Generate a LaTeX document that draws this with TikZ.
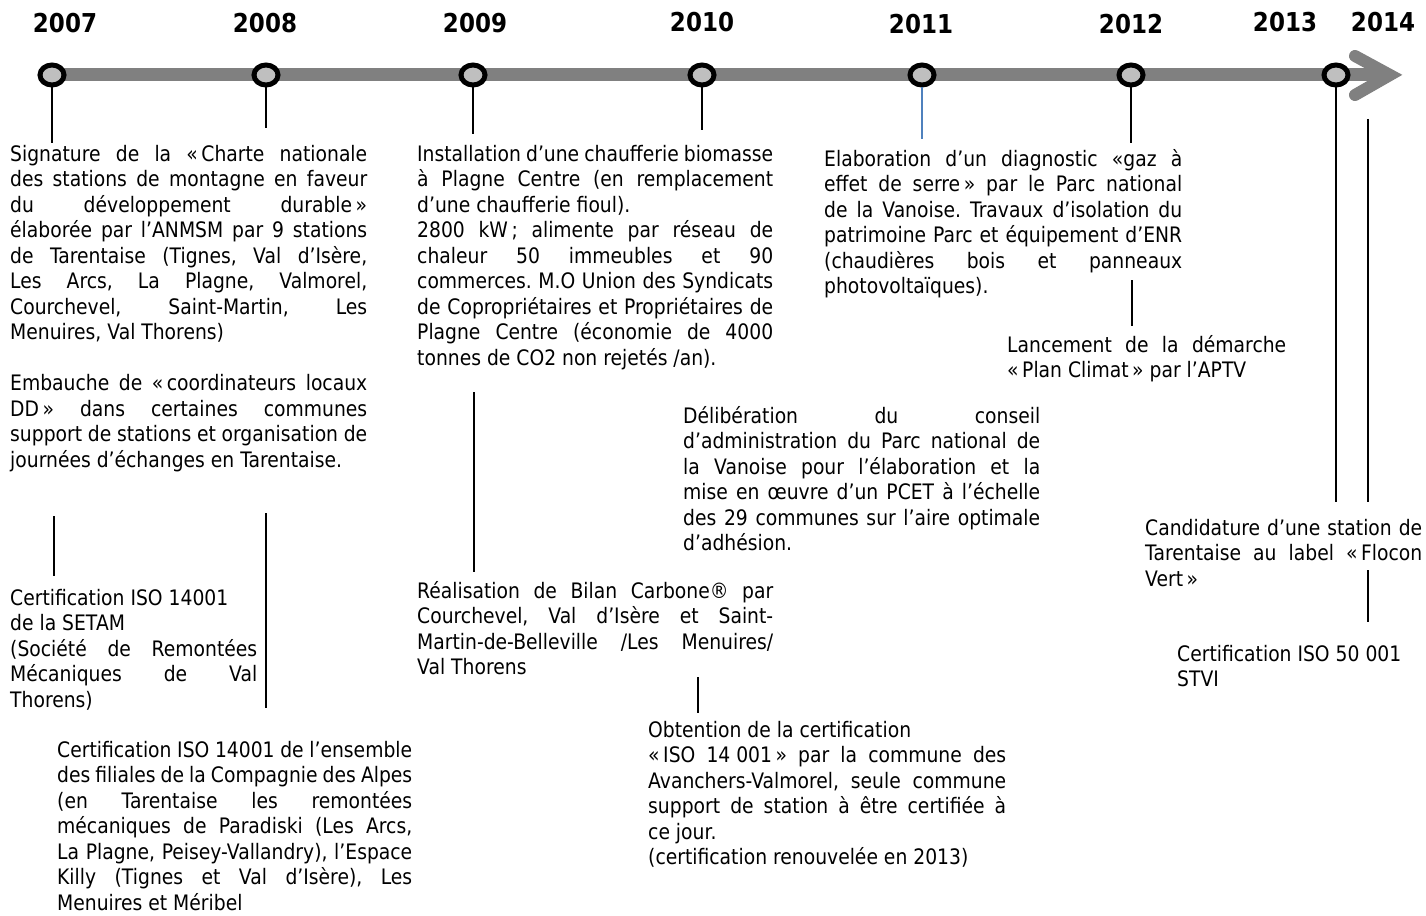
\documentclass[tikz,border=0pt]{standalone}
\usepackage{fontspec}
\setmainfont{DejaVu Sans}[FakeStretch=0.88]
\newfontfamily\yearfont{DejaVu Sans}[FakeStretch=0.885]
\usetikzlibrary{shapes.geometric}
\definecolor{barg}{RGB}{128,128,128}
\definecolor{dotfill}{RGB}{191,191,191}
\definecolor{lnblue}{RGB}{79,129,189}
\newcommand\J[1]{\makebox[\linewidth][s]{#1}\par}
\newcommand\LL[1]{\makebox[\linewidth][l]{#1}\par}
\newcommand\BL{\mbox{}\par}
\newcommand\ogq{«\,}
\newcommand\fgq{\,»}
\frenchspacing
\hbadness=10000 \hfuzz=20pt
\begin{document}
\begin{tikzpicture}[x=1pt,y=-1pt,
  yr/.style={font=\yearfont\bfseries\fontsize{26}{30}\selectfont, inner sep=0pt, anchor=base},
  dot/.style={ellipse, draw=black, line width=5pt, fill=dotfill, minimum width=24pt, minimum height=20pt, inner sep=0pt},
  link/.style={line width=2pt, draw=black},
  bar/.style={line width=13pt, draw=barg},
  txt/.style={font=\fontsize{21.3}{25.5}\selectfont, inner sep=0pt, anchor=base west}]
\useasboundingbox (0,0) rectangle (1426,915);
\fill[white] (0,0) rectangle (1426,915);

% timeline
\coordinate (start) at (52,75);
\coordinate (tip) at (1388,75);
\draw[bar] (start) -- (tip);
\coordinate (hu) at (1355,56);
\coordinate (hv) at (1390,75);
\coordinate (hd) at (1355,95);
\draw[draw=barg, line width=12pt, line cap=round, line join=miter] (hu) -- (hv) -- (hd);

% years
\node[yr] (y07) at (65,33) {2007};
\node[yr] (y08) at (265,33) {2008};
\node[yr] (y09) at (475,33) {2009};
\node[yr] (y10) at (702,32) {2010};
\node[yr] (y11) at (921,34) {2011};
\node[yr] (y12) at (1131,34) {2012};
\node[yr] (y13) at (1285,32) {2013};
\node[yr] (y14) at (1383,32) {2014};

% dots
\node[dot] (c07) at (52,75) {};
\node[dot] (c08) at (266,75) {};
\node[dot] (c09) at (473,75) {};
\node[dot] (c10) at (702,75) {};
\node[dot] (c11) at (922,75) {};
\node[dot] (c12) at (1131,75) {};
\node[dot] (c13) at (1336,75) {};

% connector ends
\coordinate (e07) at (52,143);
\coordinate (e08) at (266,128);
\coordinate (e09) at (473,134);
\coordinate (e10) at (702,130);
\coordinate (e11) at (922,139);
\coordinate (e12) at (1131,143);
\coordinate (e13) at (1336,502);
\coordinate (s1) at (1368,119);
\coordinate (s2) at (1368,502);
\coordinate (s3) at (1368,570);
\coordinate (s4) at (1368,622);
\coordinate (a1) at (54,516);
\coordinate (a2) at (54,576);
\coordinate (b1) at (266,513);
\coordinate (b2) at (266,708);
\coordinate (d1) at (474,392);
\coordinate (d2) at (474,572);
\coordinate (f1) at (698,677);
\coordinate (f2) at (698,713);
\coordinate (g1) at (1132,280);
\coordinate (g2) at (1132,326);

\draw[link] (c07.south) -- (e07);
\draw[link] (c08.south) -- (e08);
\draw[link] (c09.south) -- (e09);
\draw[link] (c10.south) -- (e10);
\draw[line width=1.5pt, draw=lnblue] (c11.south) -- (e11);
\draw[link] (c12.south) -- (e12);
\draw[link] (c13.south) -- (e13);
\draw[link] (s1) -- (s2);
\draw[link] (s3) -- (s4);
\draw[link] (a1) -- (a2);
\draw[link] (b1) -- (b2);
\draw[link] (d1) -- (d2);
\draw[link] (f1) -- (f2);
\draw[link] (g1) -- (g2);

% texts
\node[txt] (t07a) at (10,161) {\parbox[t]{357pt}{%
\J{Signature de la \ogq Charte nationale}
\J{des stations de montagne en faveur}
\J{du développement durable\fgq}
\J{élaborée par l’ANMSM par 9 stations}
\J{de Tarentaise (Tignes, Val d’Isère,}
\J{Les Arcs, La Plagne, Valmorel,}
\J{Courchevel, Saint-Martin, Les}
\LL{Menuires, Val Thorens)}
\BL
\J{Embauche de \ogq coordinateurs locaux}
\J{DD\fgq{} dans certaines communes}
\J{support de stations et organisation de}
\LL{journées d’échanges en Tarentaise.}}};

\node[txt] (t07b) at (10,605) {\parbox[t]{247pt}{%
\LL{Certification ISO 14001}
\LL{de la SETAM}
\J{(Société de Remontées}
\J{Mécaniques de Val}
\LL{Thorens)}}};

\node[txt] (t08) at (57,757) {\parbox[t]{355pt}{%
\J{Certification ISO 14001 de l’ensemble}
\J{des filiales de la Compagnie des Alpes}
\J{(en Tarentaise les remontées}
\J{mécaniques de Paradiski (Les Arcs,}
\J{La Plagne, Peisey-Vallandry), l’Espace}
\J{Killy (Tignes et Val d’Isère), Les}
\LL{Menuires et Méribel}}};

\node[txt] (t09a) at (417,161) {\parbox[t]{356pt}{%
\J{Installation d’une chaufferie biomasse}
\J{à Plagne Centre (en remplacement}
\LL{d’une chaufferie fioul).}
\J{2800 kW\,; alimente par réseau de}
\J{chaleur 50 immeubles et 90}
\J{commerces. M.O Union des Syndicats}
\J{de Copropriétaires et Propriétaires de}
\J{Plagne Centre (économie de 4000}
\LL{tonnes de CO2 non rejetés /an).}}};

\node[txt] (t09b) at (417,598) {\parbox[t]{356pt}{%
\J{Réalisation de Bilan Carbone® par}
\J{Courchevel, Val d’Isère et Saint-}
\J{Martin-de-Belleville /Les Menuires/}
\LL{Val Thorens}}};

\node[txt] (t10a) at (683,423) {\parbox[t]{357pt}{%
\J{Délibération du conseil}
\J{d’administration du Parc national de}
\J{la Vanoise pour l’élaboration et la}
\J{mise en œuvre d’un PCET à l’échelle}
\J{des 29 communes sur l’aire optimale}
\LL{d’adhésion.}}};

\node[txt] (t10b) at (648,737) {\parbox[t]{358pt}{%
\LL{Obtention de la certification}
\J{\ogq ISO 14\hspace{0.28em}001\fgq{} par la commune des}
\J{Avanchers-Valmorel, seule commune}
\J{support de station à être certifiée à}
\LL{ce jour.}
\LL{(certification renouvelée en 2013)}}};

\node[txt] (t11) at (824,166) {\parbox[t]{358pt}{%
\J{Elaboration d’un diagnostic «gaz à}
\J{effet de serre\fgq{} par le Parc national}
\J{de la Vanoise. Travaux d’isolation du}
\J{patrimoine Parc et équipement d’ENR}
\J{(chaudières bois et panneaux}
\LL{photovoltaïques).}}};

\node[txt] (t12) at (1007,352) {\parbox[t]{279pt}{%
\J{Lancement de la démarche}
\LL{\ogq Plan Climat\fgq{} par l’APTV}}};

\node[txt] (t13) at (1145,535) {\parbox[t]{277pt}{%
\J{Candidature d’une station de}
\J{Tarentaise au label \ogq Flocon}
\LL{Vert\fgq}}};

\node[txt] (t14) at (1177,661) {\parbox[t]{240pt}{%
\LL{Certification ISO 50 001}
\LL{STVI}}};
\end{tikzpicture}
\end{document}
